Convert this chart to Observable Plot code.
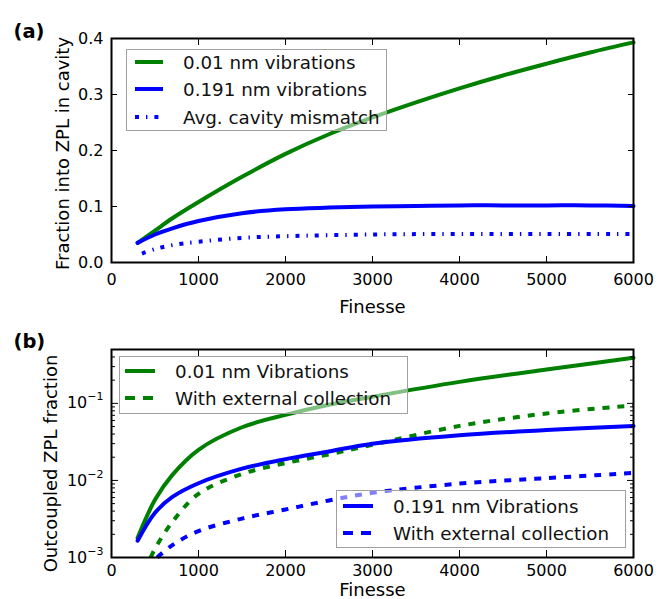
<!DOCTYPE html>
<html><head><meta charset="utf-8">
<script src="https://cdn.jsdelivr.net/npm/d3@7"></script>
<script src="https://cdn.jsdelivr.net/npm/@observablehq/plot@0.6"></script>
<style>
body{margin:0;background:#fff;}
#chart{position:relative;width:660px;height:599px;font-family:"DejaVu Sans",sans-serif;}
#chart svg{position:absolute;left:0;}
</style></head><body><div id="chart"></div>
<script>
// ---------- tick values & labels ----------
const xTicks = [0, 1000, 2000, 3000, 4000, 5000, 6000];
const yTicksA = [0, 0.1, 0.2, 0.3, 0.4];
const yTicksB = [0.001, 0.01, 0.1];
const yTickBaseB = "10";
const yTickExpB = ["−3", "−2", "−1"];
const yMinorB = [0.002,0.003,0.004,0.005,0.006,0.007,0.008,0.009,
                 0.02,0.03,0.04,0.05,0.06,0.07,0.08,0.09,
                 0.2,0.3,0.4,0.5];

// ---------- panel (a) data ----------
const finA       = [300, 500, 700, 1000, 1500, 2000, 2500, 3000, 3500, 4000, 4500, 5000, 5500, 6000];
const green001A  = [0.035, 0.057, 0.079, 0.108, 0.153, 0.194, 0.229, 0.259, 0.286, 0.311, 0.334, 0.355, 0.375, 0.393];
const blue0191A  = [0.035, 0.050, 0.061, 0.074, 0.088, 0.095, 0.098, 0.100, 0.101, 0.102, 0.102, 0.102, 0.102, 0.101];
const finMis     = [350, 500, 700, 1000, 1500, 2000, 3000, 4000, 5000, 6000];
const mismatchA  = [0.016, 0.024, 0.031, 0.037, 0.044, 0.047, 0.050, 0.051, 0.051, 0.051];

// ---------- panel (b) data ----------
const finB       = [300, 500, 700, 1000, 1500, 2000, 2500, 3000, 4000, 5000, 6000];
const green001B  = [0.0018, 0.0056, 0.0118, 0.025, 0.049, 0.071, 0.096, 0.122, 0.19, 0.275, 0.39];
const blue0191B  = [0.00165, 0.0038, 0.0061, 0.0092, 0.0142, 0.0189, 0.0238, 0.030, 0.0386, 0.045, 0.051];
const finGreenExt = [450, 500, 700, 1000, 1500, 2000, 2500, 3000, 4000, 5000, 6000];
const greenExtB   = [0.001, 0.0013, 0.0029, 0.0067, 0.0121, 0.0168, 0.0218, 0.029, 0.051, 0.074, 0.094];
const finBlueExt  = [525, 700, 1000, 1500, 2000, 2500, 3000, 4000, 5000, 6000];
const blueExtB    = [0.001, 0.00145, 0.0022, 0.0032, 0.0042, 0.0055, 0.0069, 0.0091, 0.0107, 0.0125];

const zip = (xs, ys) => xs.map((x, i) => ({f: x, v: ys[i]}));

const GREEN = "#008000", BLUE = "#0000ff";
const FONT = "DejaVu Sans, sans-serif";
const TICK_FS = 16, LABEL_FS = 18;
const DASH = "7,8", DASHDOT = "4,7,1.4,7";
const CURVE = "catmull-rom";

function frameTicks(yt, major, yMinor, minor) {
  const m = [
    Plot.axisX(xTicks, {anchor: "bottom", tickSize: -major, fill: "none", label: null}),
    Plot.axisX(xTicks, {anchor: "top", tickSize: -major, fill: "none", label: null}),
    Plot.axisY(yt, {anchor: "left", tickSize: -major, fill: "none", label: null}),
    Plot.axisY(yt, {anchor: "right", tickSize: -major, fill: "none", label: null})
  ];
  if (yMinor) {
    m.push(Plot.axisY(yMinor, {anchor: "left", tickSize: -minor, fill: "none", label: null}));
    m.push(Plot.axisY(yMinor, {anchor: "right", tickSize: -minor, fill: "none", label: null}));
  }
  return m;
}

const common = {
  width: 660, marginLeft: 111, marginRight: 27,
  style: {fontFamily: FONT, background: "transparent", overflow: "visible", color: "black"}
};

const plotA = Plot.plot({
  ...common, height: 320, marginTop: 38, marginBottom: 58,
  x: {domain: [0, 6000]},
  y: {domain: [0, 0.4]},
  marks: [
    Plot.line(zip(finA, green001A), {x: "f", y: "v", stroke: GREEN, strokeWidth: 4, curve: CURVE}),
    Plot.line(zip(finA, blue0191A), {x: "f", y: "v", stroke: BLUE, strokeWidth: 4, curve: CURVE}),
    Plot.line(zip(finMis, mismatchA), {x: "f", y: "v", stroke: BLUE, strokeWidth: 4, strokeDasharray: DASHDOT, strokeLinecap: "butt", curve: CURVE}),
    Plot.frame({strokeWidth: 2}),
    ...frameTicks(yTicksA, 6),
    Plot.axisX(xTicks, {anchor: "bottom", tickSize: 0, tickPadding: 11, fontSize: TICK_FS, tickFormat: d => String(d), label: null}),
    Plot.axisY(yTicksA, {anchor: "left", tickSize: 0, tickPadding: 8, fontSize: TICK_FS, tickFormat: d => d.toFixed(1), label: null}),
    Plot.text(["Finesse"], {frameAnchor: "bottom", dy: 50, lineAnchor: "bottom", fontSize: LABEL_FS}),
    Plot.text(["Fraction into ZPL in cavity"], {frameAnchor: "left", dx: -43, dy: 3, rotate: -90, textAnchor: "middle", lineAnchor: "bottom", fontSize: LABEL_FS}),
    Plot.text(["(a)"], {frameAnchor: "top-left", dx: -98, dy: -1, textAnchor: "start", lineAnchor: "bottom", fontSize: 19.5, fontWeight: "bold"})
  ]
});
plotA.style.top = "0px";

const plotB = Plot.plot({
  ...common, height: 279, marginTop: 29, marginBottom: 42,
  x: {domain: [0, 6000]},
  y: {type: "log", domain: [0.001, 0.5]},
  marks: [
    Plot.line(zip(finB, green001B), {x: "f", y: "v", stroke: GREEN, strokeWidth: 4, curve: CURVE}),
    Plot.line(zip(finGreenExt, greenExtB), {x: "f", y: "v", stroke: GREEN, strokeWidth: 4, strokeDasharray: DASH, strokeLinecap: "butt", curve: CURVE}),
    Plot.line(zip(finB, blue0191B), {x: "f", y: "v", stroke: BLUE, strokeWidth: 4, curve: CURVE}),
    Plot.line(zip(finBlueExt, blueExtB), {x: "f", y: "v", stroke: BLUE, strokeWidth: 4, strokeDasharray: DASH, strokeLinecap: "butt", curve: CURVE}),
    Plot.frame({strokeWidth: 2}),
    ...frameTicks(yTicksB, 7, yMinorB, 4),
    Plot.axisX(xTicks, {anchor: "bottom", tickSize: 0, tickPadding: 7, fontSize: TICK_FS, tickFormat: d => String(d), label: null}),
    Plot.axisY(yTicksB, {anchor: "left", tickSize: 0, tickPadding: 8, fontSize: TICK_FS, tickFormat: d => yTickBaseB + "^" + yTickExpB[yTicksB.indexOf(d)], label: null}),
    Plot.text(["Finesse"], {frameAnchor: "bottom", dy: 38.5, lineAnchor: "bottom", fontSize: LABEL_FS}),
    Plot.text(["Outcoupled ZPL fraction"], {frameAnchor: "left", dx: -55, dy: 10, rotate: -90, textAnchor: "middle", lineAnchor: "bottom", fontSize: LABEL_FS}),
    Plot.text(["(b)"], {frameAnchor: "top-left", dx: -98, dy: -2, textAnchor: "start", lineAnchor: "bottom", fontSize: 19.5, fontWeight: "bold"})
  ]
});
plotB.style.top = "320px";

// render exponents of the log-axis labels as real superscripts
d3.select(plotB).selectAll("text").each(function () {
  const t = this.textContent;
  if (t.includes("^")) {
    const [base, exp] = t.split("^");
    this.textContent = base;
    d3.select(this).append("tspan").attr("dy", -8).attr("font-size", 11).text(exp);
  }
});

const chart = document.getElementById("chart");
chart.appendChild(plotA);
chart.appendChild(plotB);

// ---------- legends (overlay) ----------
const legA = ["0.01 nm vibrations", "0.191 nm vibrations", "Avg. cavity mismatch"];
const legB1 = ["0.01 nm Vibrations", "With external collection"];
const legB2 = ["0.191 nm Vibrations", "With external collection"];

const overlay = d3.create("svg").attr("width", 660).attr("height", 599)
  .style("top", "0px").style("pointer-events", "none").style("font-family", FONT);

function legend(box, rows, sx0, sx1, tx, labels, styles) {
  const g = overlay.append("g");
  g.append("rect").attr("x", box[0]).attr("y", box[1]).attr("width", box[2]).attr("height", box[3])
    .attr("fill", "white").attr("fill-opacity", 0.5).attr("stroke", "#a0a0a0").attr("stroke-width", 1);
  labels.forEach((lab, i) => {
    const s = styles[i];
    g.append("line").attr("x1", sx0).attr("x2", sx1).attr("y1", rows[i]).attr("y2", rows[i])
      .attr("stroke", s.c).attr("stroke-width", 4).attr("stroke-dasharray", s.d || null);
    g.append("text").attr("x", tx).attr("y", rows[i] + 6.5).attr("font-size", 18.3).attr("fill", "#111").text(lab);
  });
}
legend([126.5, 49.5, 260, 81], [62, 89, 117], 135, 163, 183, legA,
  [{c: GREEN}, {c: BLUE}, {c: BLUE, d: DASHDOT}]);
legend([119.5, 356.5, 288, 57], [371, 398], 125, 155, 175, legB1,
  [{c: GREEN}, {c: GREEN, d: "10,8"}]);
legend([336.5, 490.5, 289, 57], [506, 533], 343, 373, 393, legB2,
  [{c: BLUE}, {c: BLUE, d: "10,8"}]);
chart.appendChild(overlay.node());
</script></body></html>
